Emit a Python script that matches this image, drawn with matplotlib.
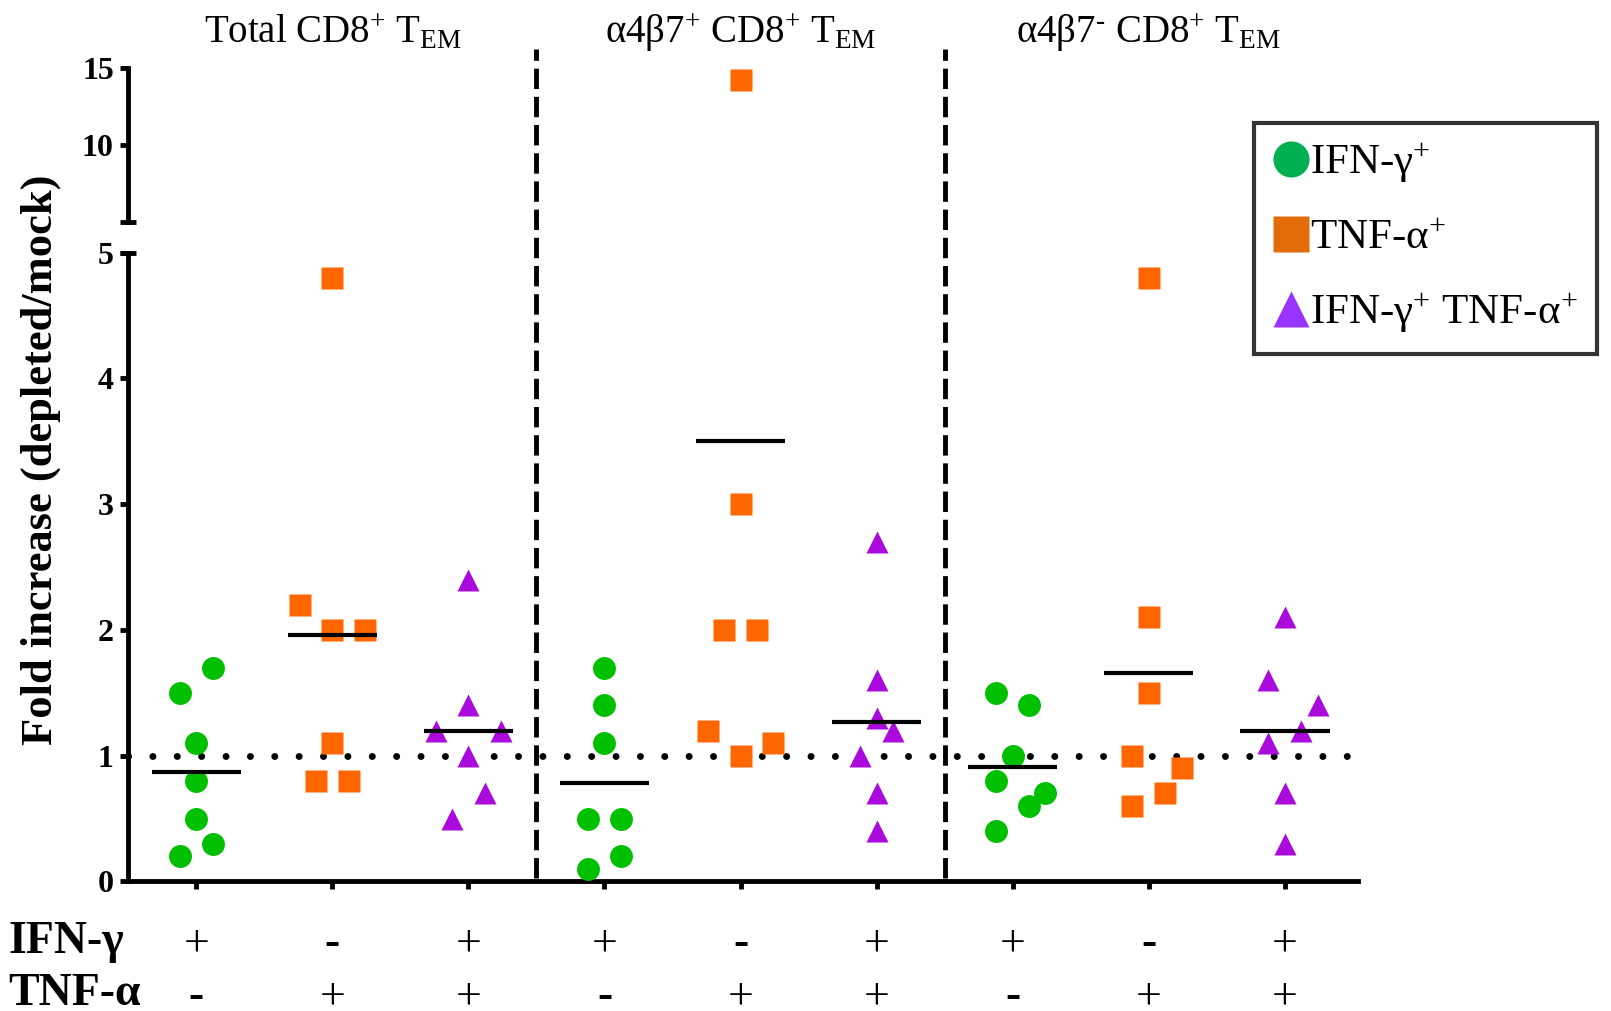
import matplotlib
matplotlib.use("Agg")
import matplotlib.pyplot as plt
from matplotlib.lines import Line2D
from matplotlib.transforms import blended_transform_factory
import numpy as np

plt.rcParams['font.family'] = ['Liberation Serif', 'DejaVu Serif']
plt.rcParams['mathtext.fontset'] = 'custom'
plt.rcParams['mathtext.rm'] = 'Liberation Serif'
plt.rcParams['mathtext.it'] = 'Liberation Serif:italic'
plt.rcParams['mathtext.bf'] = 'Liberation Serif:bold'

# ---- data (fold increase, depleted/mock) ----
titles = ["Total CD8$^{+}$ T$_{\\mathrm{EM}}$",
          "\u03b14\u03b27$^{+}$ CD8$^{+}$ T$_{\\mathrm{EM}}$",
          "\u03b14\u03b27$^{\\text{-}}$ CD8$^{+}$ T$_{\\mathrm{EM}}$"]
ifn_signs = ['+', '-', '+', '+', '-', '+', '+', '-', '+']
tnf_signs = ['-', '+', '+', '-', '+', '+', '-', '+', '+']
kinds = ['ifn', 'tnf', 'both'] * 3

values = [
    [1.7, 1.5, 1.1, 0.8, 0.5, 0.3, 0.2],
    [4.8, 2.2, 2.0, 2.0, 1.1, 0.8, 0.8],
    [2.4, 1.4, 1.2, 1.2, 1.0, 0.7, 0.5],
    [1.7, 1.4, 1.1, 0.5, 0.5, 0.2, 0.1],
    [14.2, 3.0, 2.0, 2.0, 1.2, 1.1, 1.0],
    [2.7, 1.6, 1.3, 1.2, 1.0, 0.7, 0.4],
    [1.5, 1.4, 1.0, 0.8, 0.7, 0.6, 0.4],
    [4.8, 2.1, 1.5, 1.0, 0.9, 0.7, 0.6],
    [2.1, 1.6, 1.4, 1.2, 1.1, 0.7, 0.3],
]
# horizontal scatter slots (to avoid overlap), in marker steps
slots = [
    [1, -1, 0, 0, 0, 1, -1],
    [0, -2, 0, 2, 0, -1, 1],
    [0, 0, -2, 2, 0, 1, -1],
    [0, 0, 0, -1, 1, 1, -1],
    [0, 0, -1, 1, -2, 2, 0],
    [0, 0, 0, 1, -1, 0, 0],
    [-1, 1, 0, -1, 2, 1, -1],
    [0, 0, 0, -1, 2, 1, -1],
    [0, -1, 2, 1, -1, 0, 0],
]

style = {'ifn': ('o', '#00C000'), 'tnf': ('s', '#FF6600'), 'both': ('^', '#AA0ADC')}
legend_style = [('o', '#00B050', "IFN-\u03b3$^{+}$"),
                ('s', '#E36C0A', "TNF-\u03b1$^{+}$"),
                ('^', '#9933FF', "IFN-\u03b3$^{+}$ TNF-\u03b1$^{+}$")]

step = 0.121
ms = 16.5
lw = 3.5

fig = plt.figure(figsize=(16.11, 10.11), dpi=100)
ax = fig.add_axes([0.0797, 0.1281, 0.7633, 0.622])
axt = fig.add_axes([0.0797, 0.7805, 0.7633, 0.1524])

for i, (vals, sl, kind) in enumerate(zip(values, slots, kinds)):
    m, c = style[kind]
    vals = np.array(vals)
    xs = i + np.array(sl) * step
    low = vals <= 5
    ax.plot(xs[low], vals[low], m, color=c, ms=ms, mec='none', ls='none', clip_on=False, zorder=3)
    if (~low).any():
        axt.plot(xs[~low], vals[~low], m, color=c, ms=ms, mec='none', ls='none', clip_on=False, zorder=3)
    ax.plot([i - 0.33, i + 0.33], [vals.mean()] * 2, color='black', lw=3, solid_capstyle='butt', zorder=4)

ax.plot([-0.5, 8.54], [1, 1], color='black', lw=5, ls=(0, (0.01, 3.5)),
        dash_capstyle='round', clip_on=False, zorder=2)

for xd in [2.5, 5.5]:
    ax.axvline(xd, ymin=0.005, ymax=1.3235, color='black', lw=3.5,
               ls=(0, (4.2, 1.6)), clip_on=False, zorder=1)

for a in (ax, axt):
    a.set_xlim(-0.5, 8.54)
    for s in ['top', 'right']:
        a.spines[s].set_visible(False)
    a.spines['left'].set_linewidth(lw)
    a.spines['bottom'].set_linewidth(lw)
    a.tick_params(axis='y', length=5.5, width=lw, pad=5)

ax.set_ylim(0, 5)
ax.set_yticks([0, 1, 2, 3, 4, 5])
ax.set_xticks(range(9))
ax.set_xticklabels([])
ax.tick_params(axis='x', length=5.5, width=lw)
ax.set_yticklabels([str(v) for v in [0, 1, 2, 3, 4, 5]], fontweight='bold', fontsize=23)

axt.set_ylim(5, 15)
axt.set_yticks([10, 15])
axt.set_yticklabels(['10', '15'], fontweight='bold', fontsize=23)
axt.spines['bottom'].set_visible(False)
axt.set_xticks([])
axt.patch.set_alpha(0)

# break caps
ax.plot([0], [1], '_', transform=ax.transAxes, color='black', ms=12, mew=lw, clip_on=False)
axt.plot([0], [0], '_', transform=axt.transAxes, color='black', ms=12, mew=lw, clip_on=False)

# titles
tr = blended_transform_factory(ax.transData, fig.transFigure)
for k, t in enumerate(titles):
    ax.text(3 * k + 1, 0.968, t, transform=tr, ha='center', va='center', fontsize=28)

# sign rows
for i in range(9):
    for sign, yy in ((ifn_signs[i], 0.066), (tnf_signs[i], 0.014)):
        ax.text(i, yy, sign, transform=tr, ha='center', va='center', fontsize=33,
                fontweight='bold' if sign == '-' else 'normal')
fig.text(0.005, 0.068, "IFN-\u03b3", ha='left', va='center', fontsize=33, fontweight='bold')
fig.text(0.005, 0.017, "TNF-\u03b1", ha='left', va='center', fontsize=33, fontweight='bold')

fig.text(0.0255, 0.545, "Fold increase (depleted/mock)", rotation=90, ha='center', va='center',
         fontsize=32, fontweight='bold')

handles = [Line2D([], [], marker=m, color=c, ms=26, ls='none', mec='none') for m, c, _ in legend_style]
leg = fig.legend(handles, [l for _, _, l in legend_style], loc='upper left',
                 bbox_to_anchor=(0.7785, 0.8785), fontsize=31, frameon=True,
                 handlelength=0.8, handletextpad=0.05, borderpad=0.45, labelspacing=0.78,
                 fancybox=False, borderaxespad=0)
leg.get_frame().set_edgecolor('black')
leg.get_frame().set_linewidth(3)

fig.savefig("out.png", dpi=100)
